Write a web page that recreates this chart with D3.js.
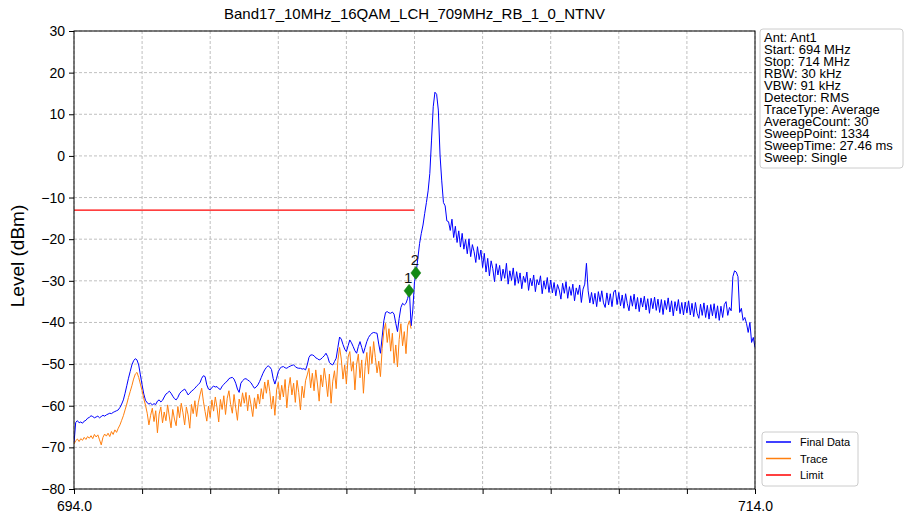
<!DOCTYPE html>
<html><head><meta charset="utf-8">
<script src="https://cdn.jsdelivr.net/npm/d3@7"></script>
<style>body{margin:0;background:#fff;} svg{display:block;font-family:"Liberation Sans",Arial,sans-serif;}</style>
</head><body>
<svg id="c" width="905" height="518"></svg>
<script>
const title = "Band17_10MHz_16QAM_LCH_709MHz_RB_1_0_NTNV";
const yLabel = "Level (dBm)";
const xDomain = [694, 714];
const yDomain = [-80, 30];
const yTicks = [30, 20, 10, 0, -10, -20, -30, -40, -50, -60, -70, -80];
const xTicks = [694, 696, 698, 700, 702, 704, 706, 708, 710, 712, 714];
const xTickLabels = ["694.0", "", "", "", "", "", "", "", "", "", "714.0"];
const sweepStart = 694.0;     // MHz
const sweepStep = 0.05;       // MHz between read points

// Final Data levels (dBm), 694.00 .. 714.00 MHz
const finalData = [
 -69.0,-64.0,-63.6,-64.1,-63.9,-64.2,-63.7,-63.5,-63.0,-62.8,-62.4,-62.6,-62.9,-62.7,-62.5,-62.9,-62.6,-62.3,-62.5,-62.2,
 -62.0,-61.8,-61.9,-61.6,-61.4,-61.2,-61.0,-60.4,-59.6,-58.6,-57.0,-55.2,-53.4,-51.8,-50.2,-49.2,-48.7,-49.0,-50.2,-52.6,
 -55.0,-57.2,-58.7,-59.3,-59.6,-59.4,-59.8,-59.5,-59.7,-58.9,-58.6,-59.1,-58.7,-57.9,-57.2,-56.9,-56.5,-57.0,-57.7,-58.3,
 -58.6,-58.0,-57.1,-56.6,-56.3,-56.0,-56.6,-57.4,-57.0,-56.5,-56.2,-55.8,-55.3,-54.9,-54.5,-53.4,-52.8,-53.0,-55.0,-56.0,
 -56.2,-55.6,-55.3,-55.5,-55.4,-55.9,-56.1,-55.3,-54.9,-54.4,-54.1,-53.5,-53.3,-53.2,-53.6,-54.6,-56.0,-56.8,-54.6,-54.0,
 -53.6,-53.5,-53.8,-54.1,-54.5,-55.2,-55.8,-55.5,-55.0,-54.2,-53.2,-52.2,-51.4,-50.8,-50.4,-50.7,-51.3,-53.5,-54.8,-53.4,
 -51.8,-51.0,-50.7,-50.6,-50.9,-51.0,-50.7,-50.5,-50.3,-50.2,-50.6,-50.9,-51.0,-51.0,-51.2,-51.1,-51.4,-50.2,-48.4,-47.8,
 -47.8,-48.0,-48.5,-48.7,-49.0,-48.8,-48.4,-48.0,-47.4,-48.2,-49.6,-50.0,-50.2,-49.4,-48.6,-46.0,-43.5,-44.0,-45.3,-46.4,
 -47.0,-45.6,-44.2,-44.9,-45.8,-46.8,-47.4,-45.8,-44.6,-46.0,-47.4,-46.0,-44.6,-43.6,-43.0,-42.6,-42.4,-42.5,-42.6,-45.2,
 -47.4,-43.5,-39.6,-37.6,-37.4,-37.7,-37.8,-37.5,-38.0,-40.2,-42.2,-39.0,-36.4,-35.4,-35.8,-35.4,-34.2,-32.4,-40.8,-37.0,
 -30.2,-28.0,-24.5,-21.0,-18.6,-16.6,-13.8,-11.2,-8.4,-4.2,3.8,11.8,15.3,14.8,11.0,0.2,-6.0,-11.2,-12.0,-15.6,
 -15.8,-17.9,-15.2,-19.6,-16.9,-20.8,-18.0,-21.9,-18.6,-22.4,-20.1,-23.5,-19.9,-24.2,-21.3,-23.0,-25.6,-21.8,-24.9,-22.6,
 -26.8,-23.4,-27.9,-24.6,-28.8,-25.2,-27.1,-30.2,-25.9,-28.6,-26.3,-30.0,-27.2,-29.4,-25.8,-30.8,-27.6,-29.9,-26.9,-31.1,
 -27.8,-30.6,-28.1,-31.9,-28.9,-30.4,-27.9,-32.3,-29.4,-31.2,-28.6,-32.6,-29.7,-31.0,-28.8,-33.1,-30.0,-32.0,-29.2,-32.8,
 -29.8,-32.9,-30.4,-33.6,-30.9,-32.2,-34.4,-30.6,-33.0,-30.2,-34.2,-31.4,-33.5,-30.8,-34.8,-31.7,-33.3,-31.0,-35.2,-32.0,
 -30.8,-25.8,-32.4,-35.3,-32.8,-35.6,-33.0,-36.2,-32.6,-35.0,-32.4,-35.3,-36.4,-32.9,-35.8,-33.1,-36.2,-32.7,-32.2,-35.7,
 -32.8,-36.0,-33.4,-36.6,-33.1,-35.5,-37.2,-33.6,-36.1,-33.2,-36.8,-34.0,-37.4,-34.1,-36.3,-33.7,-37.0,-34.3,-37.8,-34.2,
 -36.7,-33.9,-37.1,-34.4,-37.6,-34.5,-38.1,-34.7,-36.9,-34.1,-37.5,-34.8,-38.4,-35.0,-37.2,-34.5,-37.9,-35.2,-38.2,-35.1,
 -37.7,-34.8,-38.2,-35.4,-38.6,-35.2,-37.8,-39.0,-35.6,-38.3,-35.3,-38.8,-35.9,-39.2,-35.7,-38.4,-35.5,-39.0,-36.0,-39.5,
 -36.1,-38.8,-35.7,-35.0,-38.3,-36.4,-37.2,-29.0,-27.6,-27.9,-29.0,-37.6,-36.6,-39.5,-38.8,-40.2,-42.4,-40.0,-44.8,-43.6,
 -46.0
];

// Trace levels (dBm), 694.00 .. 703.90 MHz
const traceData = [
 -69.2,-68.4,-68.0,-68.6,-67.9,-68.3,-67.6,-68.1,-67.4,-67.8,-67.2,-67.9,-66.9,-67.5,-67.0,-68.2,-69.4,-67.6,-66.8,-67.3,
 -66.6,-67.4,-66.2,-66.9,-65.8,-66.4,-65.4,-64.6,-63.5,-62.4,-61.0,-59.6,-58.0,-56.6,-55.2,-53.6,-52.4,-52.0,-53.2,-54.8,
 -56.4,-58.3,-59.9,-61.8,-64.6,-62.3,-60.6,-63.8,-61.2,-66.5,-62.0,-60.3,-64.1,-61.5,-63.6,-59.8,-62.7,-65.3,-60.9,-63.2,
 -64.8,-60.2,-62.9,-59.4,-61.7,-64.6,-60.3,-62.2,-65.4,-59.7,-61.9,-58.8,-62.6,-59.3,-57.4,-55.8,-58.9,-61.4,-63.7,-60.1,
 -62.8,-58.6,-61.3,-57.9,-60.4,-63.9,-58.5,-60.9,-57.6,-62.1,-58.2,-56.4,-59.7,-61.8,-57.3,-60.6,-63.5,-58.4,-60.2,-56.9,
 -59.4,-56.8,-61.2,-57.5,-59.9,-62.6,-58.1,-60.7,-57.2,-59.6,-55.9,-58.4,-54.3,-57.0,-53.8,-56.6,-60.8,-57.7,-62.3,-56.2,
 -54.4,-58.6,-55.1,-57.9,-53.7,-60.5,-55.8,-53.2,-57.4,-54.6,-59.2,-53.9,-56.8,-61.0,-55.3,-58.1,-54.0,-52.6,-51.0,-55.7,
 -52.2,-56.4,-51.4,-54.8,-58.9,-52.6,-55.5,-51.0,-53.9,-57.8,-52.4,-59.4,-54.1,-51.6,-55.9,-49.2,-46.0,-48.8,-53.6,-50.2,
 -54.8,-48.3,-47.0,-51.7,-49.4,-56.2,-50.1,-47.6,-53.3,-49.0,-57.0,-50.6,-47.2,-52.4,-45.8,-49.9,-44.6,-48.4,-52.1,-49.3,
 -53.0,-46.3,-42.0,-40.2,-44.8,-41.5,-46.9,-42.6,-49.8,-45.4,-50.7,-44.1,-40.3,-45.6,-42.2,-47.5,-40.8,-39.6,-41.5
];

const limitFreqs = [694, 704];
const limitLevels = [-13, -13];

const markerNames = ["1", "2"];
const markerFreqs = [703.84, 704.04];
const markerLevels = [-32.4, -28.1];

const infoLines = ["Ant: Ant1","Start: 694 MHz","Stop: 714 MHz","RBW: 30 kHz","VBW: 91 kHz",
  "Detector: RMS","TraceType: Average","AverageCount: 30","SweepPoint: 1334",
  "SweepTime: 27.46 ms","Sweep: Single"];
const legendNames = ["Final Data", "Trace", "Limit"];
const legendColors = ["#0000ff", "#ff7f0e", "#ff0000"];

const svg = d3.select("#c");
const m = {l: 74, r: 755, t: 31, b: 489};
const x = d3.scaleLinear().domain(xDomain).range([m.l, m.r]);
const y = d3.scaleLinear().domain(yDomain).range([m.b, m.t]);

svg.append("rect").attr("width",905).attr("height",518).attr("fill","#fff");

// grid
const grid = svg.append("g").attr("stroke","#b0b0b0").attr("stroke-width",0.8).attr("stroke-dasharray","3,2");
grid.selectAll(".gx").data(xTicks).join("line")
  .attr("x1",d=>x(d)).attr("x2",d=>x(d)).attr("y1",m.t).attr("y2",m.b);
grid.selectAll(".gy").data(yTicks).join("line")
  .attr("y1",d=>y(d)).attr("y2",d=>y(d)).attr("x1",m.l).attr("x2",m.r);

const pts = arr => arr.map((v,i)=>[sweepStart + i*sweepStep, v]);
const line = d3.line().x(d=>x(d[0])).y(d=>y(d[1]));
svg.append("clipPath").attr("id","pc").append("rect")
  .attr("x",m.l).attr("y",m.t).attr("width",m.r-m.l).attr("height",m.b-m.t);
const plot = svg.append("g").attr("clip-path","url(#pc)");
plot.append("path").attr("d",line(pts(finalData))).attr("fill","none")
  .attr("stroke",legendColors[0]).attr("stroke-width",1);
plot.append("path").attr("d",line(pts(traceData))).attr("fill","none")
  .attr("stroke",legendColors[1]).attr("stroke-width",1);
plot.append("path").attr("d",line(limitFreqs.map((f,i)=>[f,limitLevels[i]]))).attr("fill","none")
  .attr("stroke",legendColors[2]).attr("stroke-width",1.2);

// markers
const mk = svg.append("g");
markerFreqs.forEach((f,i)=>{
  const cx = x(f), cy = y(markerLevels[i]);
  mk.append("path").attr("d",`M${cx},${cy-6.5}L${cx+5},${cy}L${cx},${cy+6.5}L${cx-5},${cy}Z`)
    .attr("fill","#138a13").attr("stroke","#0a7a0a").attr("stroke-width",0.5);
  mk.append("text").attr("x",cx-1).attr("y",cy-8).attr("text-anchor","middle")
    .attr("font-size",15).attr("fill","#111").text(markerNames[i]);
});

// frame
svg.append("rect").attr("x",m.l).attr("y",m.t).attr("width",m.r-m.l).attr("height",m.b-m.t)
  .attr("fill","none").attr("stroke","#000").attr("stroke-width",1);

// axes
const ax = svg.append("g").attr("transform",`translate(0,${m.b})`)
  .call(d3.axisBottom(x).tickValues(xTicks).tickSize(5).tickPadding(4)
    .tickFormat((d,i)=>xTickLabels[i]));
const ay = svg.append("g").attr("transform",`translate(${m.l},0)`)
  .call(d3.axisLeft(y).tickValues(yTicks).tickSize(5).tickPadding(4));
[ax, ay].forEach(a=>{
  a.select(".domain").remove();
  a.selectAll("line").attr("stroke","#000");
  a.selectAll("text").attr("font-size",14).attr("fill","#000")
   .attr("font-family",'"Liberation Sans",Arial,sans-serif');
});
ax.selectAll("text").attr("dy","0.9em");

svg.append("text").attr("x",(m.l+m.r)/2).attr("y",19).attr("text-anchor","middle")
  .attr("font-size",15).attr("fill","#000").text(title);
svg.append("text").attr("transform",`translate(24,${(m.t+m.b)/2 - 4}) rotate(-90)`)
  .attr("text-anchor","middle").attr("font-size",19).attr("fill","#000").text(yLabel);

// info box
const ib = svg.append("g");
ib.append("rect").attr("x",760).attr("y",29).attr("width",143).attr("height",139).attr("rx",3)
  .attr("fill","#fff").attr("stroke","#cccccc").attr("stroke-width",1);
ib.selectAll("text").data(infoLines).join("text")
  .attr("x",764).attr("y",(d,i)=>42+i*12).attr("font-size",13).attr("fill","#000").text(d=>d);

// legend
const lg = svg.append("g");
lg.append("rect").attr("x",762).attr("y",432).attr("width",96).attr("height",54).attr("rx",3)
  .attr("fill","#fff").attr("stroke","#cccccc").attr("stroke-width",1);
legendNames.forEach((n,i)=>{
  const yy = 442 + i*16.5;
  lg.append("line").attr("x1",766).attr("x2",791).attr("y1",yy).attr("y2",yy)
    .attr("stroke",legendColors[i]).attr("stroke-width",1.5);
  lg.append("text").attr("x",800).attr("y",yy+4).attr("font-size",11).attr("fill","#000").text(n);
});
</script>
</body></html>
